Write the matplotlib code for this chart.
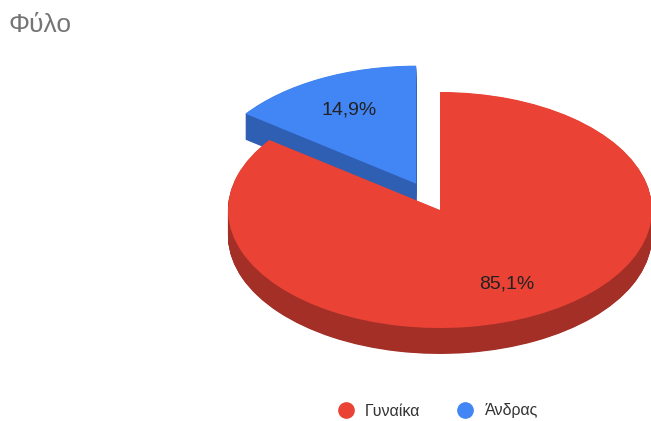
import matplotlib.pyplot as plt
from matplotlib.lines import Line2D
import numpy as np

plt.rcParams['font.family'] = ['Liberation Sans', 'DejaVu Sans']

# Φύλο: 40 γυναίκες, 7 άνδρες
labels = ['Γυναίκα', 'Άνδρας']
counts = [40, 7]
colors_top = ['#ea4335', '#4285f4']
colors_side = ['#a42f26', '#2f5fb2']
explode = [0, 0.25]

fig = plt.figure(figsize=(6.51, 4.21), dpi=100)
ax = fig.add_axes([0, 0, 1, 1])

# πλευρά της "3D" πίτας: στοίβα από σκούρες πίτες
depth = 0.22
for k in np.linspace(depth, 0.004, 45):
    ax.pie(counts, colors=colors_side, explode=explode, startangle=90,
           counterclock=False, center=(0, -k),
           wedgeprops=dict(linewidth=0, antialiased=True))

# πάνω επιφάνεια
ax.pie(counts, colors=colors_top, explode=explode, startangle=90,
       counterclock=False, center=(0, 0), pctdistance=0.7,
       autopct=lambda p: f'{p:.1f}%'.replace('.', ','),
       textprops=dict(fontsize=14, color='#222222'),
       wedgeprops=dict(linewidth=0))

ax.set_aspect('auto')
ax.set_xlim(-440 / 212, 211 / 212)
ax.set_ylim(-211 / 118, 210 / 118)
ax.axis('off')

fig.text(8 / 651, 1 - 25 / 421, 'Φύλο', fontsize=19, color='#757575',
         ha='left', va='center')

handles = [Line2D([], [], marker='o', linestyle='', markersize=11,
                  markerfacecolor=c, markeredgecolor=c) for c in colors_top]
fig.legend(handles, labels, loc='center left',
           bbox_to_anchor=(338 / 651, 10 / 421),
           borderaxespad=0, borderpad=0,
           ncol=2, frameon=False, fontsize=11.5, handlelength=1.0,
           handletextpad=0.7, columnspacing=2.3, labelcolor='#333333')

fig.savefig('out.png', dpi=100)
